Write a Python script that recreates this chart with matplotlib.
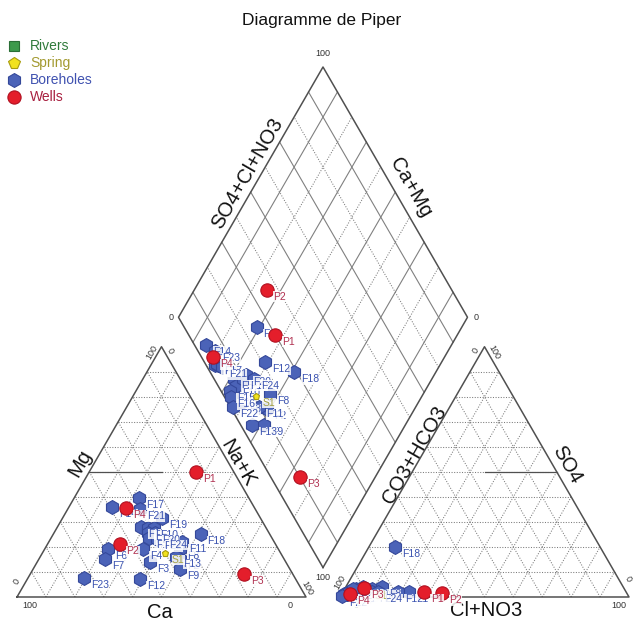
import numpy as np
import matplotlib.pyplot as plt

plt.rcParams['font.family'] = ['Liberation Sans', 'DejaVu Sans']

# ---- data, meq % ----
bore_names = ['F%d' % i for i in range(1, 25)]
bore_ca   = [43, 36, 47, 47, 41, 59, 62, 34, 38, 39, 32, 54, 37, 49, 42, 42.5, 38, 24, 34, 39.5, 40, 40, 73, 38]
bore_mg   = [28, 15, 14, 19, 27.5, 19, 15, 19, 11, 27.5, 22, 7, 16, 36, 25.5, 23.5, 39.5, 25, 31.5, 25.5, 35, 23, 7.5, 23.5]
bore_na   = [29, 49, 39, 34, 31.5, 22, 23, 47, 51, 33.5, 46, 39, 47, 15, 32.5, 34, 22.5, 51, 34.5, 35, 25, 37, 19.5, 38.5]
bore_hco3 = [75, 87.5, 95, 96, 93, 97, 96, 83.5, 92, 94, 90, 79, 96, 96, 97, 98, 96, 71, 90, 88, 95, 99, 94, 86]
bore_so4  = [2, 3, 2, 2, 3, 1, 2, 4, 2, 2, 3, 2, 1.5, 2, 1, 1, 2, 20, 4, 2, 2, 0.5, 3, 2]
bore_cl   = [23, 9.5, 3, 2, 4, 2, 2, 12.5, 6, 4, 7, 19, 2.5, 2, 2, 1, 2, 9, 6, 10, 3, 0.5, 3, 12]

spring_names = ['S1']
spring_ca, spring_mg, spring_na = [40], [17.5], [42.5]
spring_hco3, spring_so4, spring_cl = [89], [3], [8]

well_names = ['P4', 'P1', 'P2', 'P3']
well_ca   = [44.5, 13, 54, 17]
well_mg   = [35.5, 50, 21, 9]
well_na   = [20, 37, 25, 74]
well_hco3 = [96, 70, 64, 90]
well_so4  = [1, 2, 1.5, 3.5]
well_cl   = [3, 28, 34.5, 6.5]

# ---- geometry (triangle side = 1) ----
h = np.sqrt(3) / 2
g = 34 / 289.0          # gap between the two triangles
x0 = 1 + g              # left corner of anion triangle


def cat_xy(ca, mg, na):
    ca, mg, na = map(np.asarray, (ca, mg, na))
    t = ca + mg + na
    return na / t + 0.5 * mg / t, h * mg / t


def an_xy(hco3, so4, cl):
    hco3, so4, cl = map(np.asarray, (hco3, so4, cl))
    t = hco3 + so4 + cl
    return x0 + cl / t + 0.5 * so4 / t, h * so4 / t


def dia_xy(ca, mg, na, hco3, so4, cl):
    ca, mg, na, hco3, so4, cl = map(np.asarray, (ca, mg, na, hco3, so4, cl))
    cm = (ca + mg) / (ca + mg + na)
    s = (so4 + cl) / (hco3 + so4 + cl)
    return 1 + g / 2 + 0.5 * (s - cm), g * h + h * (s + cm)


fig = plt.figure(figsize=(6.34, 6.2), dpi=100)
ax = fig.add_axes([0, 0, 1, 1])
ax.set_xlim(-17 / 289, (634 - 17) / 289)
ax.set_ylim(-(620 - 597) / 289, 597 / 289)
ax.axis('off')

edge = dict(color='#505050', lw=1.1, zorder=2)
dot = dict(color='#7c7c7c', lw=0.75, ls=(0, (1, 1.5)), zorder=1)
sol = dict(color='#808080', lw=0.8, zorder=1)

# triangles
for ox in (0, x0):
    ax.plot([ox, ox + 1, ox + 0.5, ox], [0, 0, h, 0], **edge)
    for k in range(1, 10):
        f = k / 10
        ax.plot([ox + 0.5 * f, ox + 1 - 0.5 * f], [h * f, h * f], **dot)
        ax.plot([ox + f, ox + f + 0.5 * (1 - f)], [0, h * (1 - f)], **dot)
        ax.plot([ox + 1 - f, ox + 0.5 * (1 - f)], [0, h * (1 - f)], **dot)
# subdivision lines
ax.plot([0.25, 0.5], [h / 2, h / 2], color='#505050', lw=0.9, zorder=2)
ax.plot([x0 + 0.5, x0 + 0.75], [h / 2, h / 2], color='#505050', lw=0.9, zorder=2)

# diamond
bx, by = 1 + g / 2, g * h
ax.plot([bx, bx - 0.5, bx, bx + 0.5, bx], [by, by + h, by + 2 * h, by + h, by], **edge)
for k in range(1, 10):
    f = k / 10
    st = sol if k % 2 else dot
    ax.plot([bx - 0.5 * f, bx - 0.5 * f + 0.5], [by + h * f, by + h * f + h], **st)
    ax.plot([bx + 0.5 * f, bx + 0.5 * f - 0.5], [by + h * f, by + h * f + h], **st)

# tick labels
tk = dict(fontsize=6.5, color='#333333', ha='center', va='center')
ax.text(0.045, -0.031, '100', **tk)
ax.text(0.945, -0.031, '0', **tk)
ax.text(0.0, 0.052, '0', rotation=60, **tk)
ax.text(0.467, 0.846, '100', rotation=60, **tk)
ax.text(0.529, 0.853, '0', rotation=-60, **tk)
ax.text(1.004, 0.031, '100', rotation=-60, **tk)
ax.text(x0 + 0.055, -0.031, '0', **tk)
ax.text(x0 + 0.965, -0.031, '100', **tk)
ax.text(x0 + 0.0, 0.052, '100', rotation=60, **tk)
ax.text(x0 + 0.471, 0.853, '0', rotation=60, **tk)
ax.text(x0 + 0.533, 0.846, '100', rotation=-60, **tk)
ax.text(x0 + 0.995, 0.062, '0', rotation=-60, **tk)
ax.text(bx, by + 2 * h + 0.045, '100', **tk)
ax.text(bx, by - 0.035, '100', **tk)
ax.text(bx - 0.525, by + h, '0', **tk)
ax.text(bx + 0.53, by + h, '0', **tk)

# axis titles
lb = dict(fontsize=14.5, color='#111111', ha='center', va='center')
ax.text(0.218, 0.464, 'Mg', rotation=60, **lb)
ax.text(0.495, -0.052, 'Ca', **lb)
ax.text(0.765, 0.464, 'Na+K', rotation=-60, **lb)
ax.text(1.374, 0.491, 'CO3+HCO3', rotation=60, **lb)
ax.text(1.903, 0.457, 'SO4', rotation=-60, **lb)
ax.text(1.623, -0.045, 'Cl+NO3', **lb)
ax.text(0.796, 1.467, 'SO4+Cl+NO3', rotation=60, **lb)
ax.text(1.363, 1.415, 'Ca+Mg', rotation=-60, **lb)

fig.text(0.508, 1 - 20 / 620, 'Diagramme de Piper', fontsize=12.5,
         ha='center', va='center', color='#111111')


def draw(names, ca, mg, na, hco3, so4, cl, marker, fc, ec, ms, lc, z):
    for xs, ys in (cat_xy(ca, mg, na), an_xy(hco3, so4, cl),
                   dia_xy(ca, mg, na, hco3, so4, cl)):
        for n, x, y in zip(names, xs, ys):
            ax.plot(x, y, ls='none', marker=marker, ms=ms, mfc=fc, mec=ec,
                    mew=0.8, zorder=z)
            ax.annotate(n, (x, y), xytext=(5, -5), textcoords='offset points',
                        ha='left', va='center', fontsize=7.5, color=lc,
                        zorder=z + 0.5,
                        bbox=dict(fc='white', ec='none', pad=0.2, alpha=0.85))


draw(bore_names, bore_ca, bore_mg, bore_na, bore_hco3, bore_so4, bore_cl,
     'h', '#4b63b8', '#34489a', 10, '#3a52b0', 4)
draw(spring_names, spring_ca, spring_mg, spring_na, spring_hco3, spring_so4,
     spring_cl, 'p', '#f2e21e', '#a89c10', 5, '#a3a040', 6)
draw(well_names, well_ca, well_mg, well_na, well_hco3, well_so4, well_cl,
     'o', '#e41e2b', '#b01020', 9.6, '#b03050', 8)

# legend
leg = [('Rivers', 's', 6.5, '#3d9a4c', '#2a6e36', '#2f7a3a'),
       ('Spring', 'p', 8.5, '#f2e21e', '#a89c10', '#a39a30'),
       ('Boreholes', 'h', 10, '#4b63b8', '#34489a', '#4052b0'),
       ('Wells', 'o', 9.5, '#e41e2b', '#b01020', '#a82040')]
for i, (name, mk, ms, fc, ec, tc) in enumerate(leg):
    yy = 1 - (46 + 17 * i) / 620
    ax.plot(14 / 634, yy, marker=mk, ms=ms, mfc=fc, mec=ec, mew=0.8,
            transform=ax.transAxes, clip_on=False)
    ax.text(30 / 634, yy, name, transform=ax.transAxes, fontsize=10,
            color=tc, va='center', ha='left')

fig.savefig('out.png', dpi=100)
